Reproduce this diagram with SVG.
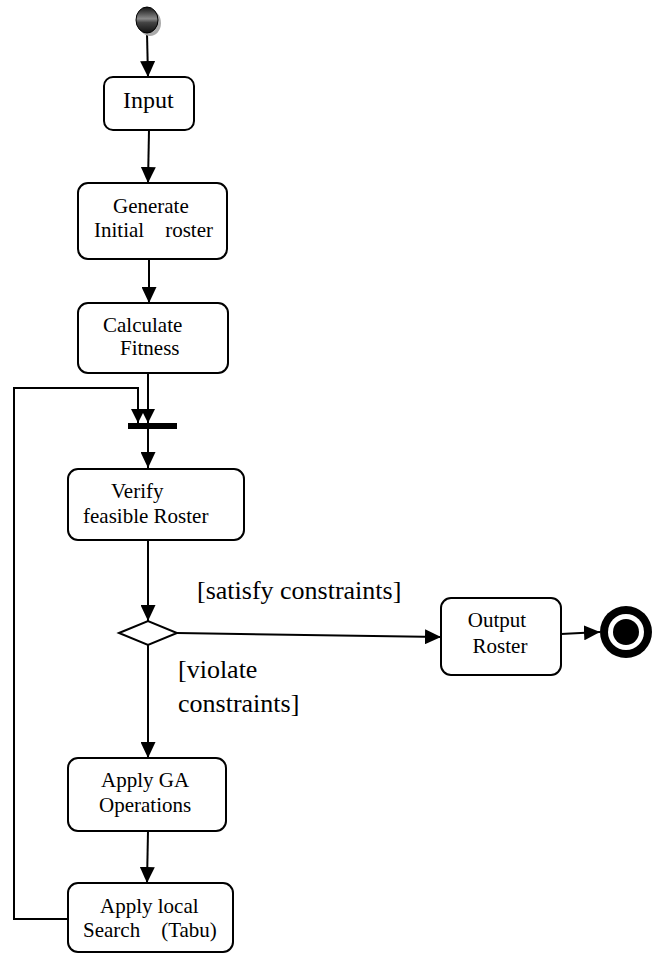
<svg xmlns="http://www.w3.org/2000/svg" width="661" height="954" viewBox="0 0 661 954">
<style>
.box{fill:#fff;stroke:#000;stroke-width:2}
.t{font-family:'Liberation Serif','DejaVu Serif',serif;font-size:21px;fill:#000}
.lbl{font-family:'Liberation Serif','DejaVu Serif',serif;font-size:26px;fill:#000}
.c{fill:none;stroke:#000;stroke-width:2}
</style>
<defs>
<marker id="ah" markerUnits="userSpaceOnUse" markerWidth="16" markerHeight="15" refX="16" refY="7.5" orient="auto">
<path d="M0,0 L16,7.5 L0,15 z" fill="#000"/>
</marker>
<marker id="ahs" markerUnits="userSpaceOnUse" markerWidth="14" markerHeight="14" refX="14" refY="7" orient="auto">
<path d="M0,0 L14,7 L0,14 z" fill="#000"/>
</marker>
<linearGradient id="sg" x1="0" y1="0" x2="0" y2="1">
<stop offset="0" stop-color="#111"/>
<stop offset="0.45" stop-color="#8a8a8a"/>
<stop offset="0.6" stop-color="#444"/>
<stop offset="1" stop-color="#111"/>
</linearGradient>
</defs>
<g id="connectors">
<line class="c" x1="147" y1="33" x2="148" y2="77" marker-end="url(#ah)"/>
<line class="c" x1="149" y1="130" x2="148" y2="183" marker-end="url(#ah)"/>
<line class="c" x1="149" y1="259" x2="149" y2="303" marker-end="url(#ah)"/>
<line class="c" x1="148" y1="373" x2="148" y2="423" marker-end="url(#ahs)"/>
<polyline class="c" points="68,919 14,919 14,388 138,388 138,423" marker-end="url(#ahs)"/>
<line class="c" x1="148" y1="429" x2="148" y2="468" marker-end="url(#ah)"/>
<line class="c" x1="148" y1="540" x2="148" y2="621" marker-end="url(#ah)"/>
<line class="c" x1="177" y1="633" x2="441" y2="637" marker-end="url(#ah)"/>
<line class="c" x1="148" y1="645" x2="148" y2="758" marker-end="url(#ah)"/>
<line class="c" x1="148" y1="831" x2="147" y2="883" marker-end="url(#ah)"/>
<line class="c" x1="561" y1="634" x2="600" y2="632" marker-end="url(#ah)"/>
<text class="lbl" x="197" y="599">[satisfy constraints]</text>
<text class="lbl" x="178" y="678">[violate</text>
<text class="lbl" x="178" y="712">constraints]</text>
</g>
<g id="start">
<ellipse cx="150" cy="23" rx="11" ry="13" fill="#aaa"/>
<ellipse cx="147" cy="20" rx="11" ry="13" fill="url(#sg)" stroke="#000" stroke-width="1"/>
</g>
<g id="input">
<rect class="box" x="104" y="77" width="90" height="53" rx="9"/>
<text class="t" x="123" y="108" style="font-size:24px">Input</text>
</g>
<g id="generate">
<rect class="box" x="78" y="183" width="149" height="76" rx="10"/>
<text class="t" x="113" y="213">Generate</text>
<text class="t" x="94" y="237" xml:space="preserve" style="white-space:pre">Initial    roster</text>
</g>
<g id="calculate">
<rect class="box" x="78" y="303" width="150" height="70" rx="10"/>
<text class="t" x="103" y="332">Calculate</text>
<text class="t" x="120" y="355">Fitness</text>
</g>
<g id="join">
<rect x="128" y="423" width="49" height="6" fill="#000"/>
</g>
<g id="verify">
<rect class="box" x="68" y="469" width="176" height="71" rx="10"/>
<text class="t" x="111" y="498">Verify</text>
<text class="t" x="83" y="523">feasible Roster</text>
</g>
<g id="decision">
<polygon points="119,633 148,621 177,633 148,645" fill="#fff" stroke="#000" stroke-width="2"/>
</g>
<g id="output">
<rect class="box" x="441" y="598" width="120" height="77" rx="10"/>
<text class="t" x="497" y="627" text-anchor="middle">Output</text>
<text class="t" x="500" y="653" text-anchor="middle">Roster</text>
</g>
<g id="end">
<circle cx="626" cy="632" r="26" fill="#000"/>
<circle cx="626" cy="632" r="18" fill="#fff"/>
<circle cx="626" cy="632" r="13" fill="#000"/>
</g>
<g id="ga">
<rect class="box" x="68" y="758" width="158" height="73" rx="10"/>
<text class="t" x="101" y="787">Apply GA</text>
<text class="t" x="99" y="812">Operations</text>
</g>
<g id="tabu">
<rect class="box" x="68" y="883" width="165" height="69" rx="10"/>
<text class="t" x="100" y="913">Apply local</text>
<text class="t" x="83" y="937" xml:space="preserve" style="white-space:pre">Search    (Tabu)</text>
</g>
</svg>
